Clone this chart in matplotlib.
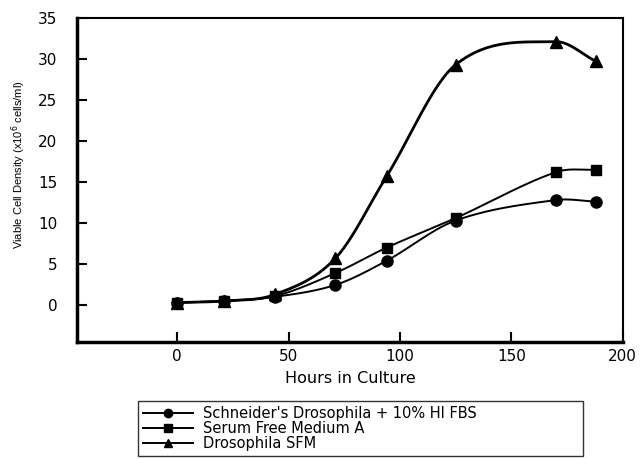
import numpy as np
import matplotlib
matplotlib.use("Agg")
import matplotlib.pyplot as plt
from matplotlib import font_manager

hours = [0, 21, 44, 71, 94, 125, 170, 188]
schneider = [0.3, 0.5, 1.0, 2.45, 5.4, 10.3, 12.8, 12.6]
serum_free_a = [0.3, 0.5, 1.1, 3.9, 7.0, 10.6, 16.2, 16.5]
drosophila_sfm = [0.3, 0.5, 1.3, 5.7, 15.7, 29.3, 32.1, 29.7]

labels = ["Schneider's Drosophila + 10% HI FBS", "Serum Free Medium A", "Drosophila SFM"]
markers = ["o", "s", "^"]

plt.rcParams["font.family"] = ["DejaVu Sans"]


def has_font(name):
    try:
        font_manager.findfont(name, fallback_to_default=False)
        return True
    except Exception:
        return False


def smooth(x, y, n=300):
    """Catmull-Rom style cubic Hermite curve through the points."""
    x = np.asarray(x, float)
    y = np.asarray(y, float)
    m = np.zeros_like(y)
    m[1:-1] = (y[2:] - y[:-2]) / (x[2:] - x[:-2])
    m[0] = (y[1] - y[0]) / (x[1] - x[0])
    m[-1] = (y[-1] - y[-2]) / (x[-1] - x[-2])
    xs = np.linspace(x[0], x[-1], n)
    i = np.clip(np.searchsorted(x, xs) - 1, 0, len(x) - 2)
    h = x[i + 1] - x[i]
    t = (xs - x[i]) / h
    h00 = 2 * t ** 3 - 3 * t ** 2 + 1
    h10 = t ** 3 - 2 * t ** 2 + t
    h01 = -2 * t ** 3 + 3 * t ** 2
    h11 = t ** 3 - t ** 2
    ys = h00 * y[i] + h10 * h * m[i] + h01 * y[i + 1] + h11 * h * m[i + 1]
    return xs, ys


fig = plt.figure(figsize=(6.42, 4.59), dpi=100)
ax = fig.add_axes([0.12, 0.255, 0.85, 0.706])

handles = []
for vals, mk, lab in zip([schneider, serum_free_a, drosophila_sfm], markers, labels):
    xs, ys = smooth(hours, vals)
    lw = 2.0 if mk == "^" else 1.4
    ax.plot(xs, ys, color="black", lw=lw)
    ms = {"o": 8, "s": 7.5, "^": 8.5}[mk]
    ax.plot(hours, vals, ls="none", marker=mk, color="black", ms=ms)
    h, = ax.plot([], [], color="black", lw=1.4, marker=mk, ms=6, label=lab)
    handles.append(h)

ax.set_xlim(-45, 200)
ax.set_ylim(-4.5, 35)
ax.set_xticks([0, 50, 100, 150, 200])
ax.set_yticks([0, 5, 10, 15, 20, 25, 30, 35])
ax.tick_params(direction="in", length=7, width=1.5, labelsize=11, top=False, right=False)
ax.tick_params(axis="x", pad=5)
ax.tick_params(axis="y", pad=14)
for side in ["left", "bottom"]:
    ax.spines[side].set_linewidth(2.5)
for side in ["top", "right"]:
    ax.spines[side].set_linewidth(1.5)

ax.set_xlabel("Hours in Culture", fontsize=11.5, labelpad=5)
if has_font("Liberation Sans Narrow"):
    yfam, ysize = "Liberation Sans Narrow", 9
else:
    yfam, ysize = "Liberation Sans", 8
ax.set_ylabel("Viable Cell Density (x10$^6$ cells/ml)", fontsize=ysize,
              family=[yfam, "DejaVu Sans"])
ax.yaxis.set_label_coords(-0.09, 0.546)

# legend box spans a fixed width below the plot
lx0, lx1, ltop = 138 / 642, 583 / 642, 1 - 401 / 459
fig.legend(handles=handles, loc="upper left", mode="expand",
           bbox_to_anchor=(lx0, ltop - 0.2, lx1 - lx0, 0.2),
           borderaxespad=0, frameon=True, fancybox=False, edgecolor="black",
           fontsize=10.5, handlelength=3.4, labelspacing=0.0, borderpad=0.35,
           handletextpad=0.7)

fig.savefig("out.png", dpi=100)
